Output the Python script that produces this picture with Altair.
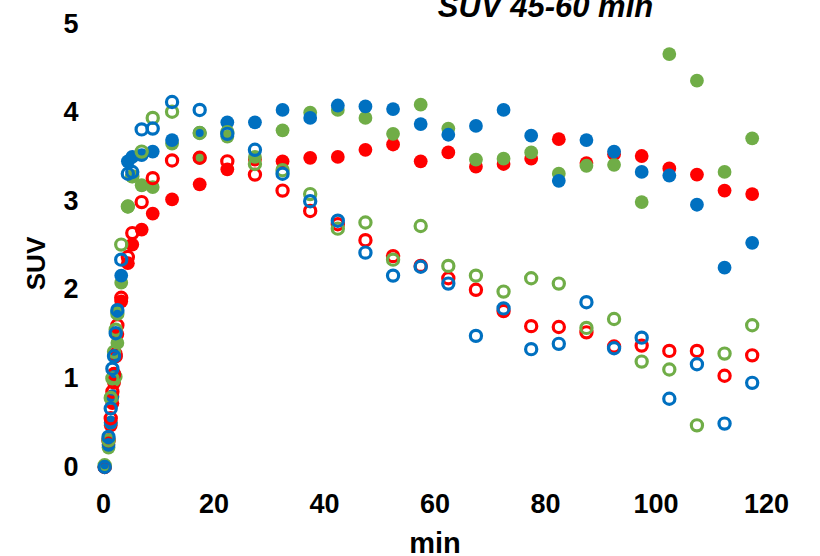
import altair as alt
import pandas as pd

# frame mid-times (min)
times = [0.3, 1.0, 1.4, 1.7, 2.0, 2.3, 2.6, 3.3, 4.5, 5.3, 7.0, 9.0,
         12.5, 17.5, 22.5, 27.5, 32.5, 37.5, 42.5, 47.5, 52.5, 57.5, 62.5,
         67.5, 72.5, 77.5, 82.5, 87.5, 92.5, 97.5, 102.5, 107.5, 112.5, 117.5]

red_filled = [0.0, 0.3, 0.47, 0.72, 0.95, 1.28, 1.5, 1.87, 2.30, 2.51, 2.68, 2.86,
              3.02, 3.19, 3.36, 3.47, 3.45, 3.49, 3.50, 3.58, 3.64, 3.45, 3.55,
              3.39, 3.42, 3.48, 3.70, 3.43, 3.53, 3.51, 3.37, 3.30, 3.12, 3.08]
green_filled = [0.0, 0.22, 0.50, 0.79, 0.98, 1.02, 1.40, 2.08, 2.94, 3.28, 3.18, 3.16,
                3.65, 3.49, 3.73, 3.50, 3.80, 4.00, 4.03, 3.94, 3.76, 4.09, 3.82,
                3.47, 3.48, 3.55, 3.31, 3.40, 3.41, 2.99, 4.66, 4.36, 3.33, 3.71]
blue_filled = [0.0, 0.25, 0.5, 0.8, 1.05, 1.25, 1.75, 2.16, 3.45, 3.50, 3.52, 3.56,
               3.69, 3.77, 3.89, 3.89, 4.03, 3.94, 4.08, 4.07, 4.04, 3.87, 3.75,
               3.85, 4.03, 3.74, 3.23, 3.69, 3.56, 3.33, 3.29, 2.96, 2.25, 2.53]
red_open = [0.0, 0.3, 0.55, 0.85, 1.05, 1.25, 1.6, 1.91, 2.37, 2.64, 2.99, 3.26,
            3.46, 3.49, 3.45, 3.30, 3.12, 2.89, 2.74, 2.56, 2.38, 2.27, 2.13,
            2.00, 1.76, 1.59, 1.58, 1.52, 1.36, 1.37, 1.31, 1.31, 1.03, 1.26]
green_open = [0.02, 0.3, 0.78, 1.0, 1.3, 1.55, 1.73, 2.51, 2.94, 3.28, 3.56, 3.94,
              4.01, 3.77, 3.78, 3.42, 3.35, 3.08, 2.69, 2.76, 2.34, 2.72, 2.27,
              2.16, 1.98, 2.13, 2.07, 1.57, 1.67, 1.19, 1.10, 0.47, 1.28, 1.60]
blue_open = [0.0, 0.34, 0.66, 1.11, 1.25, 1.51, 1.77, 2.34, 3.31, 3.33, 3.81, 3.82,
             4.12, 4.03, 3.76, 3.58, 3.31, 3.00, 2.78, 2.42, 2.16, 2.26, 2.07,
             1.48, 1.79, 1.33, 1.39, 1.86, 1.34, 1.46, 0.77, 1.16, 0.49, 0.95]

series_names = ["red", "green", "blue"]
series_colors = ["#FF0000", "#70AD47", "#0070C0"]
x_ticks = [0, 20, 40, 60, 80, 100, 120]
y_ticks = [0, 1, 2, 3, 4, 5]

# chart title, anchored in data space above the plot
title_text = ["SUV 45-60 min"]
title_min = [80.1]
title_suv = [5.075]

FONT = "Liberation Sans"


def build(values_by_series):
    rows = []
    for name, vals in zip(series_names, values_by_series):
        for t, v in zip(times, vals):
            rows.append({"min": t, "SUV": v, "series": name})
    return pd.DataFrame(rows)


filled_df = build([red_filled, green_filled, blue_filled])
open_df = build([red_open, green_open, blue_open])
title_df = pd.DataFrame({"min": title_min, "SUV": title_suv, "label": title_text})

x_scale = alt.Scale(domain=[0, 120], nice=False)
y_scale = alt.Scale(domain=[0, 5], nice=False)

x_enc = alt.X("min:Q", title="min", scale=x_scale,
              axis=alt.Axis(values=x_ticks, format="d", labelPadding=24,
                            labelFlush=False, titleY=85,
                            titleBaseline="alphabetic", titleFontSize=29))
y_enc = alt.Y("SUV:Q", title="SUV", scale=y_scale,
              axis=alt.Axis(values=y_ticks, format="d", labelPadding=25,
                            titleX=-67, titleY=239, titleBaseline="middle",
                            titleFontSize=26))
color_enc = alt.Color("series:N", legend=None,
                      scale=alt.Scale(domain=series_names, range=series_colors))

filled = alt.Chart(filled_df).mark_point(
    shape="circle", filled=True, size=190, opacity=1
).encode(x=x_enc, y=y_enc, color=color_enc)

opened = alt.Chart(open_df).mark_point(
    shape="circle", filled=False, size=125, strokeWidth=3.2, opacity=1
).encode(x=x_enc, y=y_enc, color=color_enc)

title_mark = alt.Chart(title_df).mark_text(
    font=FONT, fontSize=31, fontStyle="italic", fontWeight="bold",
    color="black", align="center", baseline="alphabetic", clip=False
).encode(x=x_enc, y=y_enc, text="label:N")

chart = alt.layer(filled, opened, title_mark).properties(
    width=663,
    height=443,
    autosize=alt.AutoSizeParams(type="none"),
    padding={"left": 103, "top": 24, "right": 54, "bottom": 89},
).configure_view(stroke=None).configure_axis(
    grid=False, domain=False, ticks=False, tickSize=0,
    labelFont=FONT, labelFontSize=27, labelFontWeight="bold", labelColor="black",
    titleFont=FONT, titleFontWeight="bold", titleColor="black",
)

chart.save("out.html", embed_options={"renderer": "svg", "actions": False})
